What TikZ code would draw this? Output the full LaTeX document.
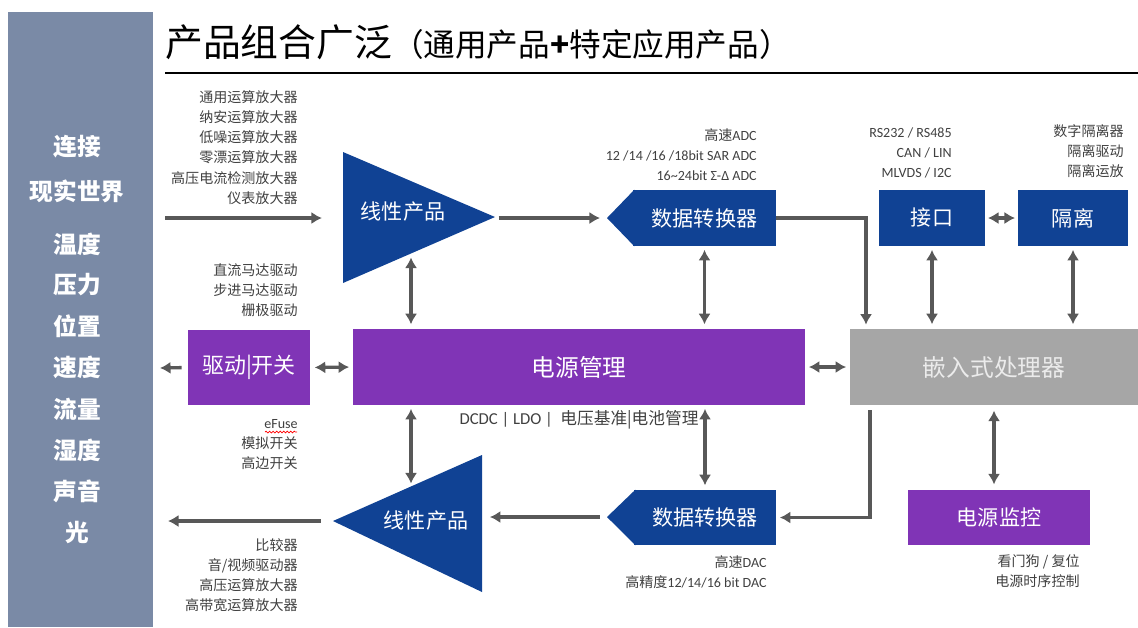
\documentclass[tikz,border=0pt]{standalone}
\usepackage{fontspec}
\setmainfont{Carlito}
\newfontfamily\cjk{Noto Sans CJK SC}
\usetikzlibrary{arrows.meta,decorations.pathmorphing}
\definecolor{panelgray}{RGB}{122,138,166}
\definecolor{tiblue}{RGB}{16,66,148}
\definecolor{tipurple}{RGB}{128,52,182}
\definecolor{cpugray}{RGB}{166,166,166}
\definecolor{wiregray}{RGB}{88,88,88}
\definecolor{notegray}{RGB}{64,64,64}
\def\u{0.02cm}
\tikzset{
	wire/.style={line width=1.9pt, color=wiregray, -{Latex[length=6pt,width=7pt]}},
	biwire/.style={line width=1.9pt, color=wiregray, {Latex[length=6pt,width=7pt]}-{Latex[length=6pt,width=7pt]}},
	blk/.style={inner sep=0, text=white, font=\cjk\fontsize{12}{14}\selectfont},
	bluebox/.style={blk, fill=tiblue},
	purplebox/.style={blk, fill=tipurple},
	note/.style={inner sep=0, align=right, anchor=north east, text=notegray, font=\fontsize{8}{11.5}\selectfont},
	side/.style={text=white, font=\cjk\bfseries\fontsize{13.5}{16}\selectfont},
}

\begin{document}
\begin{tikzpicture}[x=0.02cm, y=-0.02cm]
		%%%%% START %%%%%
		\useasboundingbox (0,0) rectangle (1138,627);
		
		\fill[panelgray] (8,12) rectangle (153,627);
		\node[side] (connect) at (77,147) {连接};
		\node[side] (world) at (77,191) {现实世界};
		\node[side] (temp) at (77,244) {温度};
		\node[side] (press) at (77,285) {压力};
		\node[side] (pos) at (77,326) {位置};
		\node[side] (speed) at (77,367) {速度};
		\node[side] (flow) at (77,409) {流量};
		\node[side] (humid) at (77,450) {湿度};
		\node[side] (sound) at (77,491) {声音};
		\node[side] (light) at (77,532) {光};
		
		\node[anchor=west, inner sep=0] (title) at (165,42) {\cjk\fontsize{21.5}{24}\selectfont 产品组合广泛\fontsize{18}{20}\selectfont （通用产品\textbf{+}特定应用产品）};
		\draw[line width=1.2pt] (165,73) -- (1138,73);
		
		% upper signal chain
		\fill[tiblue] (343,152) -- (495,217) -- (343,283) -- cycle;
		\node[blk] (linA) at (403,212) {线性产品};
		\coordinate (linA-in) at (343,218);
		\coordinate (linA-tip) at (495,218);
		\coordinate (linA-b) at (411,254);
		\coordinate (srcA) at (165,218);
		
		\node[bluebox, minimum width=143*\u, minimum height=56*\u] (adcA) at (704.5,218) {数据转换器};
		\fill[tiblue] ([xshift=1pt]adcA.north west) -- (607,218) -- ([xshift=1pt]adcA.south west) -- cycle;
		\coordinate (adcA-tip) at (607,218);
		
		\node[bluebox, minimum width=106*\u, minimum height=56*\u] (ifc) at (932,218) {接口};
		\node[bluebox, minimum width=110*\u, minimum height=56*\u] (iso) at (1073,218) {隔离};
		
		% middle row
		\node[purplebox, minimum width=122*\u, minimum height=75*\u, font=\cjk\fontsize{12.5}{14}\selectfont] (drv) at (249,367.5) {驱动|开关};
		\node[purplebox, minimum width=452*\u, minimum height=76*\u, font=\cjk\fontsize{13.5}{16}\selectfont] (pwr) at (579,367) {电源管理};
		\node[blk, fill=cpugray, text=white!92!black, minimum width=288*\u, minimum height=76*\u, font=\cjk\fontsize{13.5}{16}\selectfont] (cpu) at (994,367) {嵌入式处理器};
		\coordinate (drvOut) at (160,368);
		\coordinate (cpu-inA) at (866,329);
		\coordinate (cpu-outB) at (870,405);
		
		% lower signal chain
		\fill[tiblue] (333,521) -- (482,455) -- (482,592) -- cycle;
		\node[blk] (linB) at (426,521) {线性产品};
		\coordinate (linB-tip) at (333,521);
		\coordinate (linB-r) at (482,517);
		\coordinate (linB-t) at (411,487);
		\coordinate (outB) at (168,521);
		
		\node[bluebox, minimum width=142*\u, minimum height=55*\u] (dacB) at (705,517.5) {数据转换器};
		\fill[tiblue] ([xshift=1pt]dacB.north west) -- (607,517) -- ([xshift=1pt]dacB.south west) -- cycle;
		\coordinate (dacB-tip) at (607,517);
		
		\node[purplebox, minimum width=182*\u, minimum height=55*\u] (mon) at (999,517.5) {电源监控};
		
		% connectors
		\draw[wire, shorten >=12pt] (srcA) -- (linA-in);
		\draw[wire, shorten <=2pt, shorten >=4pt] (linA-tip) -- (adcA-tip);
		\draw[wire, shorten >=2.5pt] (adcA.east) -| (cpu-inA);
		\draw[biwire, shorten <=1.5pt, shorten >=1.5pt] (ifc.east) -- (iso.west);
		\draw[biwire, shorten <=2pt, shorten >=2.5pt] (ifc.south) -- (ifc.south |- cpu.north);
		\draw[biwire, shorten <=2pt, shorten >=2.5pt] (iso.south) -- (iso.south |- cpu.north);
		\draw[biwire, shorten <=2pt, shorten >=2.5pt] (linA-b) -- (linA-b |- pwr.north);
		\draw[biwire, shorten <=2pt, shorten >=2.5pt] (adcA.south) -- (adcA.south |- pwr.north);
		\draw[wire, shorten <=3.4pt] (drv.west) -- (drvOut);
		\draw[biwire, shorten <=2.5pt, shorten >=2pt] (drv.east) -- (pwr.west);
		\draw[biwire, shorten <=2pt, shorten >=2pt] (pwr.east) -- (cpu.west);
		\draw[biwire, shorten <=2pt, shorten >=2pt] (linB-t) -- (linB-t |- pwr.south);
		\draw[biwire, shorten <=2.5pt, shorten >=2pt] (dacB.north) -- (dacB.north |- pwr.south);
		\draw[wire, shorten <=3pt, shorten >=2pt] (cpu-outB) |- (dacB.east);
		\draw[wire, shorten <=4pt, shorten >=4.5pt] (dacB-tip) -- (linB-r);
		\draw[wire, shorten <=7pt] (linB-tip) -- (outB);
		\draw[biwire, shorten <=3pt, shorten >=3pt] (cpu.south) -- (cpu.south |- mon.north);
		
		% notes
		\node[note] (opampNote) at (298,90) {\cjk 通用运算放大器\\\cjk 纳安运算放大器\\\cjk 低噪运算放大器\\\cjk 零漂运算放大器\\\cjk 高压电流检测放大器\\\cjk 仪表放大器};
		\node[note] (drvNote) at (298,263) {\cjk 直流马达驱动\\\cjk 步进马达驱动\\\cjk 栅极驱动};
		\node[note] (swNote) at (298,419) {eFuse\\\cjk 模拟开关\\\cjk 高边开关};
		\draw[red, line width=0.4pt, decorate, decoration={snake, amplitude=0.5pt, segment length=2pt}] (265,432) -- (297,432);
		\node[note] (cmpNote) at (298,538) {\cjk 比较器\\\cjk 音/视频驱动器\\\cjk 高压运算放大器\\\cjk 高带宽运算放大器};
		\node[note] (adcNote) at (757,128) {{\cjk 高速}ADC\\12 /14 /16 /18bit SAR ADC\\16\textasciitilde 24bit Σ-Δ ADC};
		\node[note] (ifcNote) at (952,127) {RS232 / RS485\\CAN / LIN\\MLVDS / I2C};
		\node[note] (isoNote) at (1124,124) {\cjk 数字隔离器\\\cjk 隔离驱动\\\cjk 隔离运放};
		\node[note] (dacNote) at (767,555) {{\cjk 高速}DAC\\{\cjk 高精度}12/14/16 bit DAC};
		\node[note] (monNote) at (1080,554) {\cjk 看门狗 / 复位\\\cjk 电源时序控制};
		\node[inner sep=0, text=notegray, font=\fontsize{9.5}{11}\selectfont] (pwrNote) at (579,420) {DCDC | LDO |~ {\cjk 电压基准|电池管理}};
		
		%%%%% END %%%%%
\end{tikzpicture}
\end{document}
